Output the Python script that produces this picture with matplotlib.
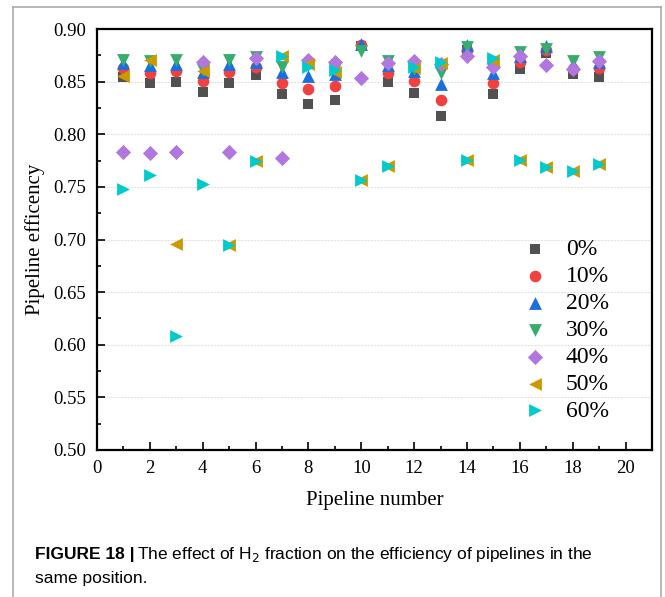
import numpy as np
import matplotlib
matplotlib.use("Agg")
from matplotlib import pyplot as plt
from matplotlib.lines import Line2D
from matplotlib.ticker import MultipleLocator

pipes = np.arange(1, 20)
labels = ["0%", "10%", "20%", "30%", "40%", "50%", "60%"]

eff_0 = [0.854, 0.849, 0.850, 0.840, 0.849, 0.856, 0.838, 0.829, 0.833, 0.884,
         0.850, 0.839, 0.817, 0.880, 0.838, 0.862, 0.877, 0.857, 0.854]
eff_10 = [0.863, 0.858, 0.860, 0.851, 0.859, 0.864, 0.849, 0.843, 0.846, 0.885,
          0.858, 0.851, 0.833, 0.880, 0.849, 0.869, 0.880, 0.862, 0.863]
eff_20 = [0.868, 0.866, 0.867, 0.859, 0.867, 0.869, 0.859, 0.855, 0.857, 0.886,
          0.866, 0.860, 0.848, 0.885, 0.858, 0.874, 0.884, 0.867, 0.869]
eff_30 = [0.871, 0.870, 0.871, 0.861, 0.871, 0.873, 0.864, 0.866, 0.862, 0.879,
          0.870, 0.862, 0.858, 0.883, 0.862, 0.878, 0.881, 0.870, 0.873]
eff_40 = [0.783, 0.782, 0.783, 0.869, 0.783, 0.872, 0.777, 0.871, 0.869, 0.853,
          0.868, 0.870, 0.867, 0.874, 0.864, 0.874, 0.866, 0.862, 0.870]
eff_50 = [0.855, 0.871, 0.696, 0.860, 0.695, 0.775, 0.874, 0.867, 0.859, 0.757,
          0.770, 0.863, 0.868, 0.776, 0.871, 0.776, 0.769, 0.765, 0.772]
eff_60 = [0.748, 0.761, 0.608, 0.753, 0.695, 0.775, 0.874, 0.864, 0.861, 0.757,
          0.770, 0.864, 0.869, 0.776, 0.872, 0.776, 0.769, 0.765, 0.772]

series = [eff_0, eff_10, eff_20, eff_30, eff_40, eff_50, eff_60]
colors = ["#515151", "#F14040", "#1A6FDF", "#37AD6B", "#B177DE", "#CC9900", "#00CBCC"]
markers = ["s", "o", "^", "v", "D", "<", ">"]
sizes = [55, 70, 85, 85, 60, 85, 85]

plt.rcParams["font.family"] = ["Liberation Serif", "DejaVu Serif"]
plt.rcParams["mathtext.fontset"] = "custom"

fig = plt.figure(figsize=(6.65, 5.97), dpi=100)
ax = fig.add_axes([97 / 665, 1 - 450 / 597, 555 / 665, 421 / 597])

for vals, c, m, s, lab in zip(series, colors, markers, sizes, labels):
    ax.scatter(pipes, vals, c=c, marker=m, s=s, linewidths=0, label=lab, zorder=3)

ax.set_xlim(0, 21)
ax.set_ylim(0.50, 0.90)
ax.xaxis.set_minor_locator(MultipleLocator(1))
ax.yaxis.set_major_locator(MultipleLocator(0.05))
ax.yaxis.set_minor_locator(MultipleLocator(0.025))
ax.set_xticks(np.arange(0, 21, 2))
ax.yaxis.set_major_formatter(matplotlib.ticker.FormatStrFormatter("%.2f"))
ax.tick_params(which="both", direction="in", top=False, right=False, width=1.2,
               labelsize=13.5)
ax.tick_params(which="major", length=6)
ax.tick_params(which="minor", length=3)
ax.tick_params(axis="x", pad=7)
ax.tick_params(axis="y", pad=8)
for sp in ax.spines.values():
    sp.set_linewidth(1.6)
ax.grid(axis="y", which="major", color="#e2e2e2", linestyle=(0, (2, 1)), linewidth=0.8)
ax.set_axisbelow(True)

ax.set_xlabel("Pipeline number", fontsize=15, labelpad=10)
ax.set_ylabel("Pipeline efficency", fontsize=15, labelpad=6)

leg = ax.legend(loc="upper left", bbox_to_anchor=(0.73, 0.525), frameon=False,
                fontsize=17, handletextpad=0.3, labelspacing=0.23,
                borderaxespad=0, scatterpoints=1)

# outer frame of the figure panel
for xs, ys in [([13, 13], [0, 590]), ([13, 661], [590, 590]), ([661, 661], [0, 590])]:
    fig.add_artist(Line2D([x / 665 for x in xs], [y / 597 for y in ys],
                          color="#aaaaaa", linewidth=1.2))

cap_font = ["Liberation Sans Narrow", "Liberation Sans", "DejaVu Sans"]
t1 = fig.text(35 / 665, 1 - 555 / 597, "FIGURE 18 |", fontsize=12.5, fontweight="bold",
              family=cap_font, va="center")
fig.canvas.draw()
bb = t1.get_window_extent()
fig.text(bb.x1 / fig.bbox.width + 0.004, 1 - 555 / 597,
         "The effect of H$_2$ fraction on the efficiency of pipelines in the",
         fontsize=12.5, family=cap_font, va="center")
fig.text(35 / 665, 1 - 579 / 597, "same position.", fontsize=12.5, family=cap_font,
         va="center")

fig.savefig("out.png", dpi=100)
